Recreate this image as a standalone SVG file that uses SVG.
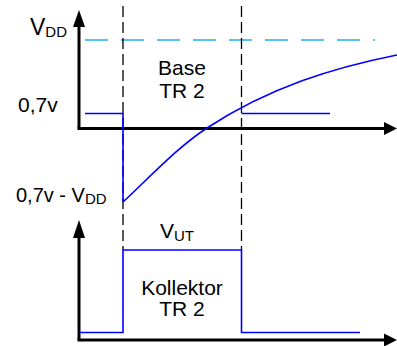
<svg xmlns="http://www.w3.org/2000/svg" width="397" height="346" viewBox="0 0 397 346">
<defs>
<style>
.ax{stroke:#000;stroke-width:3;fill:none}
.ah{fill:#000;stroke:none}
.sig{stroke:#0000ff;stroke-width:1.6;fill:none}
.guide{stroke:#000;stroke-width:1.3;stroke-dasharray:11 5;fill:none}
.vdd{stroke:#1cb0e8;stroke-width:1.5;stroke-dasharray:23 13;fill:none}
text{font-family:"Liberation Sans",Arial,sans-serif;fill:#000;font-size:21px}
.sub{font-size:15px}
</style>
</defs>
<rect width="397" height="346" fill="#fff"/>
<g id="base-axes">
<line class="ax" x1="79" y1="128.5" x2="79" y2="24"/>
<polygon class="ah" points="79,10 73,27 85,27"/>
<line class="ax" x1="77.5" y1="128.5" x2="386" y2="128.5"/>
<polygon class="ah" points="397,128.5 384,122 384,135"/>
</g>
<g id="collector-axes">
<line class="ax" x1="79" y1="340" x2="79" y2="236"/>
<polygon class="ah" points="79,220 73,238 85,238"/>
<line class="ax" x1="77.5" y1="340" x2="386" y2="340"/>
<polygon class="ah" points="397,340 384,333.5 384,346.5"/>
</g>
<g id="vdd-level">
<line class="vdd" x1="85" y1="40" x2="375" y2="40"/>
</g>
<g id="connectors">
<line class="guide" x1="123" y1="6" x2="123" y2="250"/>
<line class="guide" x1="241.5" y1="6" x2="241.5" y2="250"/>
</g>
<g id="base-signal">
<polyline class="sig" points="85,113.5 123,113.5 123,202"/>
<path class="sig" d="M123,202 C151,176 179,146 207,128 C270,87 334,67.6 397,55"/>
<line class="sig" x1="241.5" y1="113.5" x2="330" y2="113.5"/>
</g>
<g id="collector-signal">
<polyline class="sig" points="79,332.5 123,332.5 123,250 241.5,250 241.5,332.5 360,332.5"/>
</g>
<g id="labels">
<text x="30" y="34.5" style="font-size:23px">V<tspan class="sub" dy="2.5">DD</tspan></text>
<text x="18" y="112">0,7v</text>
<text x="182" y="75" text-anchor="middle">Base</text>
<text x="182" y="98" text-anchor="middle">TR 2</text>
<text x="16" y="201.5" style="font-size:20px">0,7v - V<tspan class="sub" dy="2">DD</tspan></text>
<text x="160" y="238">V<tspan class="sub" dy="2.5">UT</tspan></text>
<text x="182" y="295" text-anchor="middle">Kollektor</text>
<text x="182" y="316" text-anchor="middle">TR 2</text>
</g>
</svg>
